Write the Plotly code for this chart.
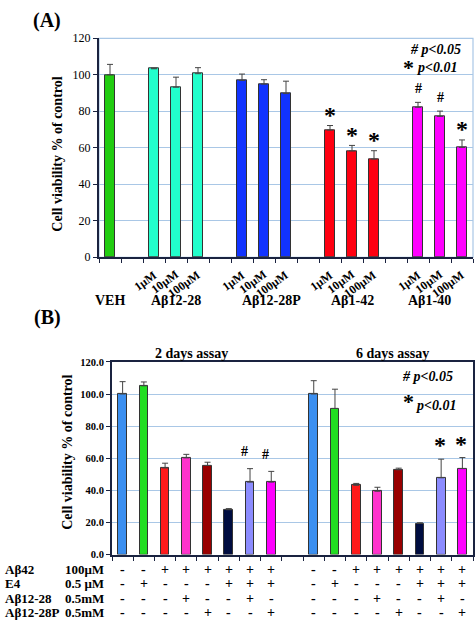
import plotly.graph_objects as go

# ---------------- Panel A data ----------------
a_groups = ["VEH", "Aβ12-28", "Aβ12-28P", "Aβ1-42", "Aβ1-40"]
a_doses = ["1μM", "10μM", "100μM"]
a_veh = [100.0]
a_veh_err = [5.7]
a_ab1228 = [103.3, 93.2, 100.6]
a_ab1228_err = [0.4, 5.5, 3.3]
a_ab1228p = [96.9, 94.9, 89.7]
a_ab1228p_err = [3.5, 2.4, 6.8]
a_ab142 = [69.7, 58.3, 53.8]
a_ab142_err = [2.5, 3.0, 4.6]
a_ab140 = [82.2, 77.2, 60.2]
a_ab140_err = [2.7, 2.9, 4.1]
a_ab142_marks = ["*", "*", "*"]
a_ab140_marks = ["#", "#", "*"]
a_colors = ["#22cc11", "#22ffcc", "#1133ff", "#ff0011", "#ff00ff"]

# ---------------- Panel B data ----------------
b_assays = ["2 days assay", "6 days assay"]
b_2d = [100.0, 105.1, 53.9, 60.2, 55.5, 27.9, 45.1, 45.1]
b_2d_err = [7.7, 2.4, 3.0, 2.2, 2.0, 0.7, 8.4, 6.7]
b_6d = [100.0, 91.0, 43.1, 39.4, 52.8, 19.3, 47.8, 53.5]
b_6d_err = [8.3, 12.0, 1.2, 2.5, 1.0, 0.5, 11.6, 6.9]
b_2d_marks = ["", "", "", "", "", "", "#", "#"]
b_6d_marks = ["", "", "", "", "", "", "*", "*"]
b_colors = ["#3b8ff0", "#22dd22", "#ff1a1a", "#ff33cc", "#990000", "#000d40", "#8c8cff", "#ff00ff"]
b_row_labels = ["Aβ42", "E4", "Aβ12-28", "Aβ12-28P"]
b_row_conc = ["100μM", "0.5 μM", "0.5mM", "0.5mM"]
b_ab42 = ["-", "-", "+", "+", "+", "+", "+", "+"]
b_e4 = ["-", "+", "-", "-", "-", "+", "+", "+"]
b_ab1228 = ["-", "-", "-", "+", "-", "-", "+", "-"]
b_ab1228p = ["-", "-", "-", "-", "+", "-", "-", "+"]

W, H = 475, 628
FONT = "Liberation Serif"
GRID = "#a9c7e6"
AXC = "#1a2340"


def px(x):
    return x / W


def py(y):
    return 1 - y / H


fig = go.Figure()
ann = []

# ---------- Panel A traces ----------
a_series = [(a_veh, a_veh_err, None), (a_ab1228, a_ab1228_err, None),
            (a_ab1228p, a_ab1228p_err, None), (a_ab142, a_ab142_err, a_ab142_marks),
            (a_ab140, a_ab140_err, a_ab140_marks)]
slot = 0
for gi, (vals, errs, marks) in enumerate(a_series):
    xs = list(range(slot, slot + len(vals)))
    fig.add_trace(go.Bar(
        x=xs, y=vals, width=0.41, marker=dict(color=a_colors[gi], line=dict(color="#333333", width=1)),
        error_y=dict(type="data", array=errs, arrayminus=[0] * len(errs), symmetric=False,
                     color="#444444", thickness=1, width=3),
        xaxis="x", yaxis="y", showlegend=False))
    # group label
    gx = xs[len(xs) // 2] if len(xs) > 1 else xs[0]
    if gi == 2:
        gx += 0.35
    if gi == 4:
        gx -= 0.5
    ann.append(dict(text="<b>%s</b>" % a_groups[gi], x=gx, xref="x", y=py(300), yref="paper",
                    showarrow=False, font=dict(size=14, family=FONT, color="black"),
                    xanchor="center", yanchor="middle"))
    if len(vals) > 1:
        for k, xv in enumerate(xs):
            ann.append(dict(text="<b>%s</b>" % a_doses[k], x=xv + 0.35, xref="x", y=py(264), yref="paper",
                            showarrow=False, textangle=-36, font=dict(size=12, family=FONT, color="black"),
                            xanchor="right", yanchor="top"))
    if marks:
        for k, xv in enumerate(xs):
            top = vals[k] + errs[k]
            m = marks[k]
            if m == "*":
                ann.append(dict(text="<b>*</b>", x=xv, xref="x", y=top - 2.3, yref="y",
                                showarrow=False, font=dict(size=24, family=FONT, color="black"),
                                xanchor="center", yanchor="bottom"))
            else:
                ann.append(dict(text="<b>#</b>", x=xv, xref="x", y=top + 2.5, yref="y",
                                showarrow=False, font=dict(size=14, family=FONT, color="black"),
                                xanchor="center", yanchor="bottom"))
    slot += len(vals) + 1

n_a = slot - 1

# ---------- Panel B traces ----------
b_sets = [(b_2d, b_2d_err, b_2d_marks), (b_6d, b_6d_err, b_6d_marks)]
rows = [b_ab42, b_e4, b_ab1228, b_ab1228p]
row_y = [575, 590, 605, 619]
bslot = 0
for ai, (vals, errs, marks) in enumerate(b_sets):
    xs = list(range(bslot, bslot + len(vals)))
    fig.add_trace(go.Bar(
        x=xs, y=vals, width=0.41, marker=dict(color=b_colors, line=dict(color="#333333", width=1)),
        error_y=dict(type="data", array=errs, arrayminus=[0] * len(errs), symmetric=False,
                     color="#444444", thickness=1, width=3),
        xaxis="x2", yaxis="y2", showlegend=False))
    for k, xv in enumerate(xs):
        top = vals[k] + errs[k]
        if marks[k] == "*":
            ann.append(dict(text="<b>*</b>", x=xv - 0.05, xref="x2", y=top - 0.8, yref="y2",
                            showarrow=False, font=dict(size=24, family=FONT, color="black"),
                            xanchor="center", yanchor="bottom"))
        elif marks[k] == "#":
            ann.append(dict(text="<b>#</b>", x=xv - 0.25, xref="x2", y=top + 4.5, yref="y2",
                            showarrow=False, font=dict(size=14, family=FONT, color="black"),
                            xanchor="center", yanchor="bottom"))
        for r, row in enumerate(rows):
            ann.append(dict(text="<b>%s</b>" % row[k], x=xv, xref="x2", y=py(row_y[r]), yref="paper",
                            showarrow=False, font=dict(size=14, family=FONT, color="black"),
                            xanchor="center", yanchor="middle"))
    bslot += len(vals) + 1

n_b = bslot - 1

# row labels panel B
for r in range(4):
    ann.append(dict(text="<b>%s</b>" % b_row_labels[r], x=px(3), xref="paper", y=py(row_y[r]), yref="paper",
                    showarrow=False, font=dict(size=13, family=FONT, color="black"),
                    xanchor="left", yanchor="middle"))
    ann.append(dict(text="<b>%s</b>" % b_row_conc[r], x=px(63), xref="paper", y=py(row_y[r]), yref="paper",
                    showarrow=False, font=dict(size=13, family=FONT, color="black"),
                    xanchor="left", yanchor="middle"))

# assay titles
ann.append(dict(text="<b>%s</b>" % b_assays[0], x=px(191), xref="paper", y=py(354), yref="paper",
                showarrow=False, font=dict(size=14, family=FONT, color="black"), xanchor="center", yanchor="middle"))
ann.append(dict(text="<b>%s</b>" % b_assays[1], x=px(392), xref="paper", y=py(354), yref="paper",
                showarrow=False, font=dict(size=14, family=FONT, color="black"), xanchor="center", yanchor="middle"))

# panel labels
ann.append(dict(text="<b>(A)</b>", x=px(47), xref="paper", y=py(14), yref="paper", showarrow=False,
                font=dict(size=20, family=FONT, color="black"), xanchor="center", yanchor="middle"))
ann.append(dict(text="<b>(B)</b>", x=px(47), xref="paper", y=py(318), yref="paper", showarrow=False,
                font=dict(size=20, family=FONT, color="black"), xanchor="center", yanchor="middle"))

# y titles
ann.append(dict(text="<b>Cell viability % of control</b>", x=px(58), xref="paper", y=py(151), yref="paper",
                showarrow=False, textangle=-90, font=dict(size=14, family=FONT, color="black"),
                xanchor="center", yanchor="middle"))
ann.append(dict(text="<b>Cell viability % of control</b>", x=px(68), xref="paper", y=py(456), yref="paper",
                showarrow=False, textangle=-90, font=dict(size=14, family=FONT, color="black"),
                xanchor="center", yanchor="middle"))


# significance legends
def legend(r1, y1, r2, y2, xstar, ystar):
    ann.append(dict(text="<b><i># p&lt;0.05</i></b>", x=px(r1), xref="paper", y=py(y1), yref="paper",
                    showarrow=False, font=dict(size=14, family=FONT, color="black"), xanchor="right", yanchor="middle"))
    ann.append(dict(text="<b>*</b>", x=px(xstar), xref="paper", y=py(ystar), yref="paper",
                    showarrow=False, font=dict(size=22, family=FONT, color="black"), xanchor="center", yanchor="middle"))
    ann.append(dict(text="<b><i>p&lt;0.01</i></b>", x=px(r2), xref="paper", y=py(y2), yref="paper",
                    showarrow=False, font=dict(size=14, family=FONT, color="black"), xanchor="right", yanchor="middle"))


legend(463, 43, 459, 62, 408, 62)
legend(455, 378, 458, 408, 408, 404)

shapes = [
    # panel A light frame (top & right)
    dict(type="rect", xref="paper", yref="paper", x0=px(99), x1=px(473), y0=py(256), y1=py(32),
         line=dict(color=GRID, width=1.2), layer="below"),
]

fig.update_layout(
    width=W, height=H, margin=dict(l=0, r=0, t=0, b=0),
    paper_bgcolor="white", plot_bgcolor="white",
    bargap=0, barmode="overlay",
    font=dict(family=FONT, color="black"),
    annotations=ann, shapes=shapes,
    xaxis=dict(domain=[px(99), px(473)], range=[-0.5, n_a - 0.5], showgrid=False, zeroline=False,
               tickvals=[i - 0.5 for i in range(n_a + 1)], ticks="outside", ticklen=4, tickcolor=AXC,
               showticklabels=False, showline=True, linecolor=AXC, linewidth=2, anchor="y"),
    yaxis=dict(domain=[py(256), py(32)], range=[0, 120], tickvals=[0, 20, 40, 60, 80, 100, 120],
               showgrid=True, gridcolor=GRID, gridwidth=1, zeroline=False, ticks="outside", ticklen=4,
               tickcolor=AXC, showline=True, linecolor=AXC, linewidth=2, anchor="x",
               tickfont=dict(size=12, family=FONT, color="black"), tickprefix="<b>", ticksuffix="</b>"),
    xaxis2=dict(domain=[px(112), px(473)], range=[-0.5, n_b - 0.5], showgrid=False, zeroline=False,
                tickvals=[i - 0.5 for i in range(n_b + 1)], ticks="outside", ticklen=4, tickcolor=AXC,
                showticklabels=False, showline=True, linecolor=AXC, linewidth=2, mirror=True, anchor="y2"),
    yaxis2=dict(domain=[py(560), py(363)], range=[0, 120], tickvals=[0, 20, 40, 60, 80, 100, 120],
                ticktext=["<b>%.1f</b>" % v for v in [0, 20, 40, 60, 80, 100, 120]],
                showgrid=True, gridcolor=GRID, gridwidth=1, zeroline=False, ticks="outside", ticklen=4,
                tickcolor=AXC, showline=True, linecolor=AXC, linewidth=2, mirror=True, anchor="x2",
                tickfont=dict(size=10.5, family=FONT, color="black")),
)

fig.write_html("out.html", config={"displayModeBar": False},
               post_script="document.body.style.margin='0';document.body.style.overflow='hidden';")
